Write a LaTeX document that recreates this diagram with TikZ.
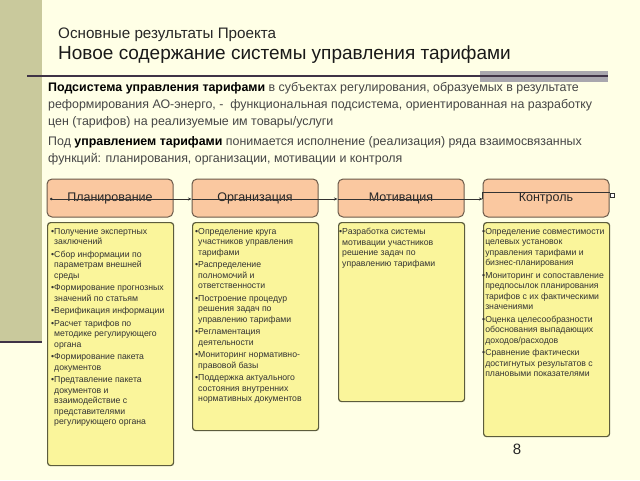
\documentclass[tikz,border=0pt]{standalone}
\usepackage{fontspec}
\setmainfont{Liberation Sans}
\usetikzlibrary{arrows.meta}
\definecolor{bgc}{HTML}{FFFFE6}
\definecolor{barc}{HTML}{C9C99C}
\definecolor{linec}{HTML}{3F3346}
\definecolor{grayc}{HTML}{A9A7AE}
\definecolor{ofill}{HTML}{FAC8A0}
\definecolor{oborder}{HTML}{6B5A4A}
\definecolor{yfill}{HTML}{FAF59B}
\definecolor{yborder}{HTML}{5C5C3C}
\definecolor{bodyc}{HTML}{454545}
\tikzset{
  obox/.style={draw=oborder, line width=1pt, fill=ofill, rounded corners=5pt,
    minimum width=126pt, minimum height=38pt, inner sep=0pt,
    font=\fontsize{12.5}{14}\selectfont, text=black!85},
  ybox/.style={draw=yborder, line width=1.2pt, fill=yfill, rounded corners=3pt,
    minimum width=126pt, inner sep=0pt, anchor=north west},
  ytext/.style={anchor=north west, inner sep=0pt, align=left,
    font=\fontsize{8.7}{10.5}\selectfont, text=black!80},
  conn/.style={draw=black!80, line width=0.7pt},
  tipend/.style={-{Stealth[length=3.5pt,width=3pt]}},
  para/.style={anchor=north west, inner sep=0pt, align=left,
    font=\fontsize{12.4}{17}\selectfont, text=bodyc}
}
\newcommand{\bl}{•}
\newcommand{\cl}{\hphantom{•}}
\begin{document}
\begin{tikzpicture}[x=1pt,y=-1pt]
\useasboundingbox (0,0) rectangle (640,480);
\fill[bgc] (0,0) rectangle (640,480);
\fill[barc] (0,0) rectangle (42,342);
\draw[linec, line width=1.5pt] (0,342) -- (42,342);
\fill[grayc] (480,71) rectangle (608,82);
\draw[linec, line width=1.3pt] (27,76) -- (608,76);

\node[anchor=west, inner sep=0pt, font=\fontsize{15.2}{17}\selectfont, text=black!85] (t1) at (58,35) {Основные результаты Проекта};
\node[anchor=west, inner sep=0pt, font=\fontsize{19}{21}\selectfont, text=black!90] (t2) at (58,55) {Новое содержание системы управления тарифами};

\node[para] (p1) at (48,82) {\textcolor{black}{\textbf{Подсистема управления тарифами}} в субъектах регулирования, образуемых в результате\\
реформирования АО-энерго, -\ \ функциональная подсистема, ориентированная на разработку\\
цен (тарифов) на реализуемые им товары/услуги};
\node[para] (p2) at (48,136) {Под \textcolor{black}{\textbf{управлением тарифами}} понимается исполнение (реализация) ряда взаимосвязанных\\
функций: планирования, организации, мотивации и контроля};

\node[obox] (plan) at (110,198) {Планирование};
\node[obox] (org) at (255,198) {Организация};
\node[obox] (mot) at (401,198) {Мотивация};
\node[obox] (ctrl) at (546,198) {Контроль};

\coordinate (s) at (50,199);
\node[draw=black!80, line width=0.5pt, fill=white, minimum size=4pt, inner sep=0pt] (sq) at (612,195) {};
\draw[conn, {Circle[length=2.5pt]}-{Stealth[length=3.5pt,width=3pt]}] (s) -- (org.west |- s);
\draw[conn, tipend] (org.west |- s) -- (mot.west |- s);
\draw[conn, tipend] (mot.west |- s) -- (ctrl.west |- s);
\draw[conn] (ctrl.west |- s) |- (sq.north west);

\node[ybox, minimum height=243pt] (y1) at (47,222) {};
\node[ybox, minimum height=208pt] (y2) at (192,222) {};
\node[ybox, minimum height=179pt] (y3) at (338,222) {};
\node[ybox, minimum height=214pt] (y4) at (483,222) {};

\node[ytext] (y1t) at ([xshift=4pt,yshift=-6pt]y1.north west) {\bl Получение экспертных\\ \cl заключений\\[2pt]
\bl Сбор информации по\\ \cl параметрам внешней\\ \cl среды\\[2pt]
\bl Формирование прогнозных\\ \cl значений по статьям\\[2pt]
\bl Верификация информации\\[2pt]
\bl Расчет тарифов по\\ \cl методике регулирующего\\ \cl органа\\[2pt]
\bl Формирование пакета\\ \cl документов\\[2pt]
\bl Предтавление пакета\\ \cl документов и\\ \cl взаимодействие с\\ \cl представителями\\ \cl регулирующего органа};

\node[ytext] (y2t) at ([xshift=3pt,yshift=-6pt]y2.north west) {\bl Определение круга\\ \cl участников управления\\ \cl тарифами\\[2pt]
\bl Распределение\\ \cl полномочий и\\ \cl ответственности\\[2pt]
\bl Построение процедур\\ \cl решения задач по\\ \cl управлению тарифами\\[2pt]
\bl Регламентация\\ \cl деятельности\\[2pt]
\bl Мониторинг нормативно-\\ \cl правовой базы\\[2pt]
\bl Поддержка актуального\\ \cl состояния внутренних\\ \cl нормативных документов};

\node[ytext] (y3t) at ([xshift=1pt,yshift=-6pt]y3.north west) {\bl Разработка системы\\ \cl мотивации участников\\ \cl решение задач по\\ \cl управлению тарифами};

\node[ytext] (y4t) at ([xshift=-1pt,yshift=-6pt]y4.north west) {\bl Определение совместимости\\ \cl целевых установок\\ \cl управления тарифами и\\ \cl бизнес-планирования\\[2pt]
\bl Мониторинг и сопоставление\\ \cl предпосылок планирования\\ \cl тарифов с их фактическими\\ \cl значениями\\[2pt]
\bl Оценка целесообразности\\ \cl обоснования выпадающих\\ \cl доходов/расходов\\[2pt]
\bl Сравнение фактически\\ \cl достигнутых результатов с\\ \cl плановыми показателями};

\node[inner sep=0pt, font=\fontsize{15}{17}\selectfont, text=black!85] (pg) at (517,449) {8};
\end{tikzpicture}
\end{document}
